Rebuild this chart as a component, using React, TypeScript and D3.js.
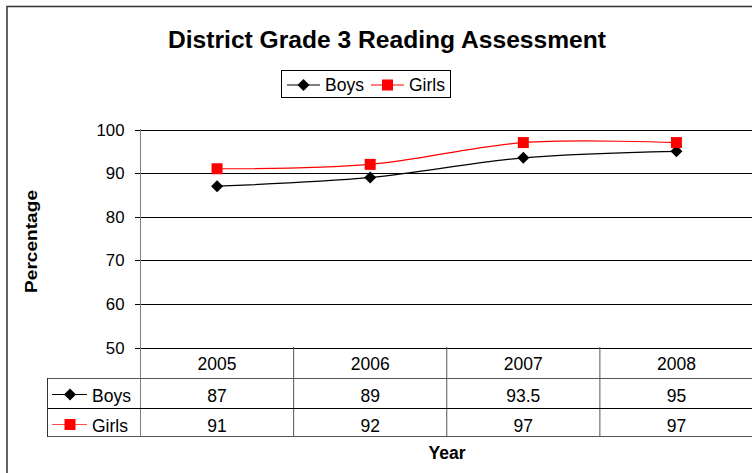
import React from "react";
import * as d3 from "d3";

const years = ["2005", "2006", "2007", "2008"];
const boys = [87, 89, 93.5, 95];
const girls = [91, 92, 97, 97];
const yTicks = [50, 60, 70, 80, 90, 100];
const seriesNames = ["Boys", "Girls"];
const seriesColors = ["#000000", "#ff0000"];

const W = 752, H = 473;
const FONT = "'Liberation Sans', Arial, sans-serif";
const FS = 17.5;

export default function App() {
  const x = d3.scaleBand<string>().domain(years).range([140.5, 753]);
  const y = d3.scaleLinear().domain([50, 100]).range([347.5, 129.5]);
  const line = d3
    .line<number>()
    .x((_, i) => (x(years[i]) as number) + x.bandwidth() / 2)
    .y((d) => y(d))
    .curve(d3.curveCatmullRom.alpha(0.5));
  const series = [boys, girls];
  const rowTops = [378, 408];
  const tableLeft = 47.5;
  const diamond = (cx: number, cy: number, r: number) =>
    `M${cx},${cy - r}L${cx + r},${cy}L${cx},${cy + r}L${cx - r},${cy}Z`;
  const marker = (si: number, cx: number, cy: number, key: string) =>
    si === 0 ? (
      <path key={key} d={diamond(cx, cy, 6)} fill="#000" />
    ) : (
      <rect key={key} x={cx - 5.5} y={cy - 5.5} width={11} height={11} fill="#ff0000" />
    );
  const legendX = [287, 371];

  return (
    <svg width={W} height={H} style={{ position: "absolute", left: 0, top: 0, background: "#fff" }} fontFamily={FONT}>
      <rect x={0} y={0} width={W} height={H} fill="#fff" />
      <rect x={7} y={6.5} width={W + 20} height={H + 20} fill="none" stroke="#333" strokeWidth={1.5} />
      <text x={387} y={47.5} textAnchor="middle" fontSize={23} fontWeight="bold" textLength={438} lengthAdjust="spacingAndGlyphs">
        District Grade 3 Reading Assessment
      </text>
      {/* legend */}
      <rect x={281.5} y={70.5} width={169} height={27} fill="#fff" stroke="#000" />
      {seriesNames.map((n, i) => {
        const lx = legendX[i];
        return (
          <g key={n}>
            <line x1={lx} x2={lx + 33} y1={85} y2={85} stroke={seriesColors[i]} strokeWidth={1.2} />
            {marker(i, lx + 16.5, 85, "lm" + n)}
            <text x={lx + 38} y={91} fontSize={FS}>{n}</text>
          </g>
        );
      })}
      {/* grid lines */}
      {yTicks.map((t) => (
        <g key={t}>
          <line x1={135} x2={W} y1={Math.round(y(t)) + 0.5} y2={Math.round(y(t)) + 0.5} stroke="#000" strokeWidth={1} />
          <text x={124.5} y={y(t) + 6} textAnchor="end" fontSize={16.8}>{t}</text>
        </g>
      ))}
      <line x1={140.5} x2={140.5} y1={129} y2={437} stroke="#808080" strokeWidth={1} />
      <text transform={`translate(37,241.5) rotate(-90)`} textAnchor="middle" fontSize={17} fontWeight="bold" textLength={103} lengthAdjust="spacingAndGlyphs">
        Percentage
      </text>
      {/* table */}
      {years.map((yr, i) => {
        const x0 = x(yr) as number;
        return (
          <g key={yr}>
            {i > 0 && <line x1={x0} x2={x0} y1={347} y2={437} stroke="#555" />}
            <text x={x0 + x.bandwidth() / 2} y={369.5} textAnchor="middle" fontSize={FS}>{yr}</text>
            {series.map((s, si) => (
              <text key={si} x={x0 + x.bandwidth() / 2} y={rowTops[si] + 23.5} textAnchor="middle" fontSize={FS}>
                {s[i]}
              </text>
            ))}
          </g>
        );
      })}
      <line x1={tableLeft} x2={W} y1={378.5} y2={378.5} stroke="#555" />
      <line x1={tableLeft} x2={W} y1={408.5} y2={408.5} stroke="#000" />
      <line x1={tableLeft} x2={W} y1={436.5} y2={436.5} stroke="#555" />
      <line x1={tableLeft} x2={tableLeft} y1={378} y2={437} stroke="#333" />
      {seriesNames.map((n, si) => (
        <g key={"row" + n}>
          <line x1={52} x2={87} y1={rowTops[si] + 16.5} y2={rowTops[si] + 16.5} stroke={seriesColors[si]} strokeWidth={1.2} opacity={si === 1 ? 0.7 : 1} />
          {marker(si, 70, rowTops[si] + 16.5, "tm" + n)}
          <text x={92} y={rowTops[si] + 23.5} fontSize={FS}>{n}</text>
        </g>
      ))}
      <text x={447} y={459} textAnchor="middle" fontSize={17.5} fontWeight="bold">Year</text>
      {/* series */}
      {series.map((s, si) => (
        <g key={"s" + si}>
          <path d={line(s) as string} fill="none" stroke={seriesColors[si]} strokeWidth={1.2} />
          {s.map((v, i) => marker(si, (x(years[i]) as number) + x.bandwidth() / 2, y(v), `m${si}-${i}`))}
        </g>
      ))}
    </svg>
  );
}
